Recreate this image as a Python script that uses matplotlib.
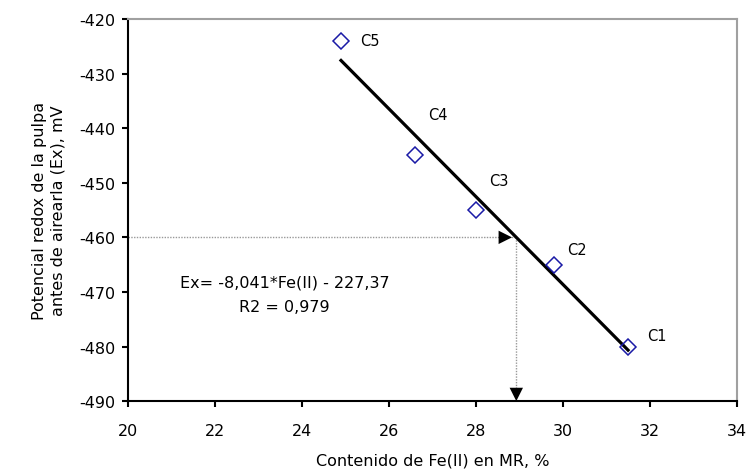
import matplotlib
matplotlib.use("Agg")
import matplotlib.pyplot as plt
import numpy as np

plt.rcParams["axes.unicode_minus"] = False
plt.rcParams["font.family"] = ["DejaVu Sans"]

labels = ["C1", "C2", "C3", "C4", "C5"]
fe2 = [31.5, 29.8, 28.0, 26.6, 24.9]
ex = [-480.0, -465.0, -455.0, -445.0, -424.0]
slope = -8.041
intercept = -227.37
target_ex = -460.0

fig = plt.figure(figsize=(7.48, 4.77), dpi=100)
ax = fig.add_axes([0.171, 0.157, 0.814, 0.801])

# regression line
xl = np.array([min(fe2), max(fe2)])
ax.plot(xl, slope * xl + intercept, color="black", lw=2.3, zorder=2)

# points
ax.plot(fe2, ex, linestyle="none", marker="D", markersize=8, mfc="none",
        mec="#1a1aa6", mew=1.1, zorder=3)

# labels
offsets = {"C1": (0.45, 2.0), "C2": (0.3, 2.8), "C3": (0.3, 5.5), "C4": (0.3, 7.5), "C5": (0.45, 0.0)}
for lab, x, y in zip(labels, fe2, ex):
    dx, dy = offsets[lab]
    ax.text(x + dx, y + dy, lab, fontsize=10.5, va="center", ha="left")

# dotted guide lines with arrows
x_at = (target_ex - intercept) / slope
ax.plot([20, x_at], [target_ex, target_ex], color="#999999", lw=1.0, ls=(0, (1, 1)), zorder=1)
ax.plot([x_at, x_at], [target_ex, -489], color="#999999", lw=1.0, ls=(0, (1, 1)), zorder=1)
ax.annotate("", xy=(x_at - 0.1, target_ex), xytext=(x_at - 0.8, target_ex),
            arrowprops=dict(arrowstyle="-|>", color="black", lw=0.01,
                            mutation_scale=24, shrinkA=0, shrinkB=0))
ax.annotate("", xy=(x_at, -490), xytext=(x_at, -486),
            arrowprops=dict(arrowstyle="-|>", color="black", lw=0.01,
                            mutation_scale=24, shrinkA=0, shrinkB=0))

ax.text(23.6, -468.1, "Ex= -8,041*Fe(II) - 227,37", fontsize=11.5, ha="center", va="center")
ax.text(23.6, -472.6, "R2 = 0,979", fontsize=11.5, ha="center", va="center")

ax.set_xlim(20, 34)
ax.set_ylim(-490, -420)
ax.set_xticks(np.arange(20, 35, 2))
ax.set_yticks(np.arange(-490, -419, 10))
ax.tick_params(axis="both", labelsize=11.5, direction="out", length=4, width=1.5)
ax.tick_params(axis="x", pad=12)
ax.tick_params(axis="y", pad=5)
ax.spines["top"].set_color("#a0a0a0")
ax.spines["right"].set_color("#a0a0a0")
for s in ax.spines.values():
    s.set_linewidth(1.5)

ax.set_xlabel("Contenido de Fe(II) en MR, %", fontsize=11.5, labelpad=10)
ax.set_ylabel("Potencial redox de la pulpa\nantes de airearla (Ex), mV", fontsize=11.5,
              labelpad=10, linespacing=1.3)

fig.savefig("out.png", dpi=100)
